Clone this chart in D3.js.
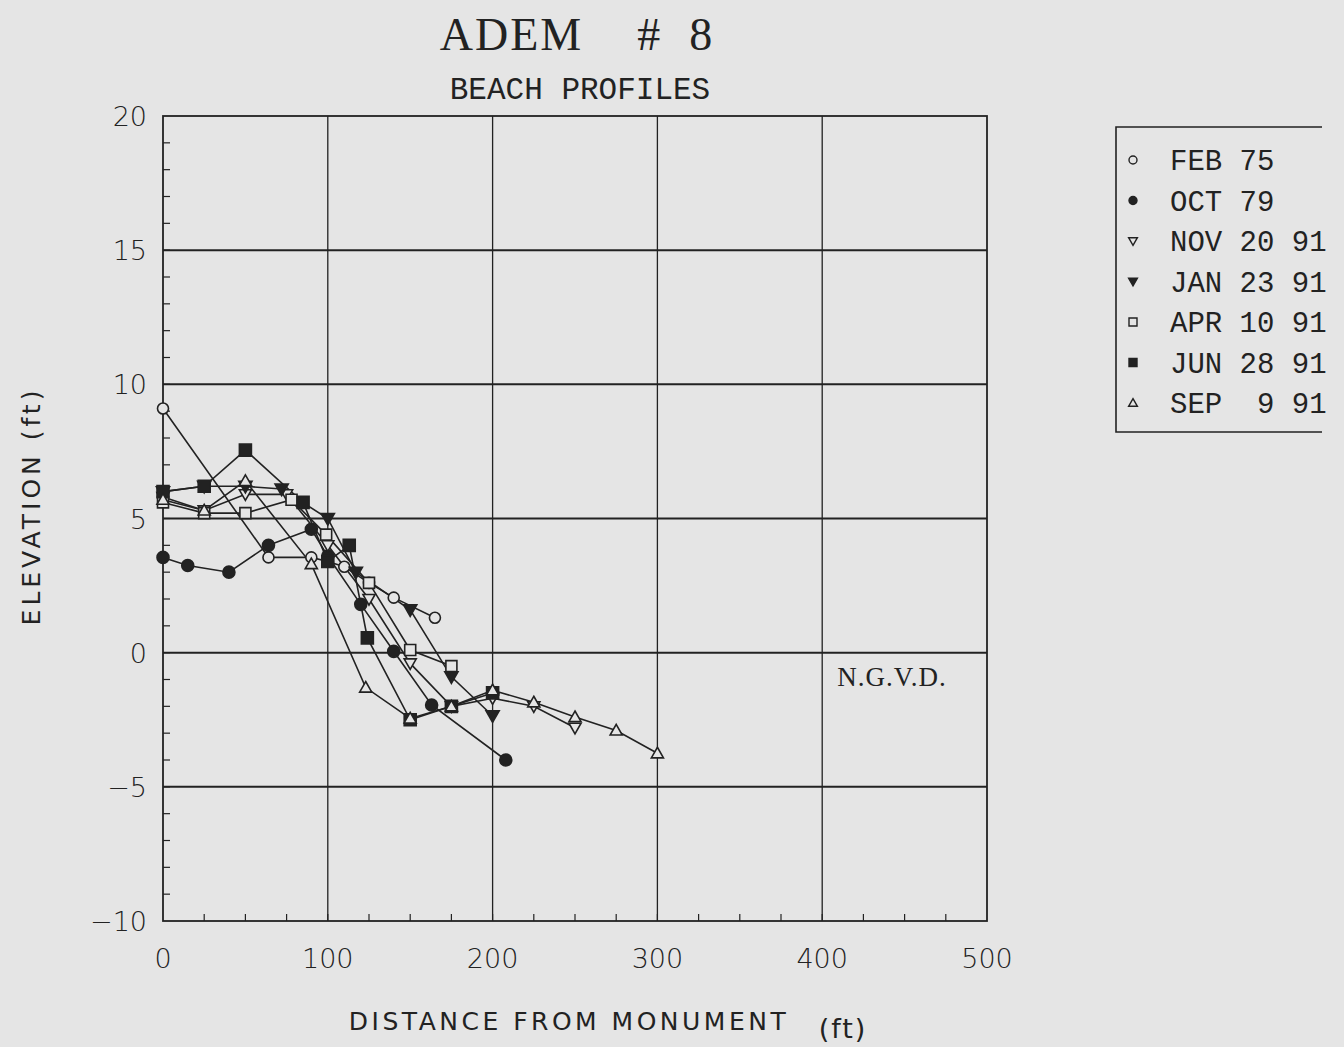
<!DOCTYPE html>
<html>
<head>
<meta charset="utf-8">
<script src="https://cdn.jsdelivr.net/npm/d3@7/dist/d3.min.js"></script>
<style>
  html, body { margin: 0; padding: 0; background: #e5e5e5; }
  svg { display: block; }
</style>
</head>
<body>
<div id="chart"></div>
<script>
// profile dates and their marker style
var seriesNames = ["FEB 75", "OCT 79", "NOV 20 91", "JAN 23 91", "APR 10 91", "JUN 28 91", "SEP  9 91"];
var seriesMarks = ["circle", "circle", "triDown", "triDown", "square", "square", "triUp"];
var seriesFill  = [false, true, false, true, false, true, false];

// [distance ft, elevation ft]
var feb75 = [[0, 9.1], [64, 3.55], [90, 3.55], [100, 3.4], [110, 3.2], [125, 2.6], [140, 2.05], [165, 1.3]];
var oct79 = [[0, 3.55], [15, 3.25], [40, 3.0], [64, 4.0], [90, 4.6], [100, 3.6], [120, 1.8], [140, 0.05], [163, -1.95], [208, -4.0]];
var nov91 = [[0, 5.8], [25, 5.3], [50, 5.9], [75, 5.9], [100, 4.0], [125, 2.0], [150, -0.4], [175, -2.0], [200, -1.7], [225, -2.0], [250, -2.8]];
var jan91 = [[0, 6.0], [25, 6.2], [50, 6.2], [72, 6.1], [100, 5.0], [117, 3.0], [150, 1.6], [175, -0.9], [200, -2.35]];
var apr91 = [[0, 5.6], [25, 5.2], [50, 5.2], [78, 5.7], [99, 4.4], [125, 2.6], [150, 0.1], [175, -0.5]];
var jun91 = [[0, 6.0], [25, 6.2], [50, 7.55], [85, 5.6], [100, 3.4], [113, 4.0], [124, 0.55], [150, -2.5], [175, -2.0], [200, -1.5]];
var sep91 = [[0, 5.7], [25, 5.3], [50, 6.4], [90, 3.3], [123, -1.3], [150, -2.45], [175, -2.0], [200, -1.4], [225, -1.85], [250, -2.4], [275, -2.9], [300, -3.75]];
var allSeries = [feb75, oct79, nov91, jan91, apr91, jun91, sep91];

var xTicks = [0, 100, 200, 300, 400, 500];
var yTicks = [-10, -5, 0, 5, 10, 15, 20];

var W = 1344, H = 1047;
var m = { left: 163, right: 987, top: 116, bottom: 921 };
var ink = "#222";

var svg = d3.select("#chart").append("svg").attr("width", W).attr("height", H);

var x = d3.scaleLinear().domain([0, 500]).range([m.left, m.right]);
var y = d3.scaleLinear().domain([-10, 20]).range([m.bottom, m.top]);

// grid
svg.append("g").selectAll("line").data(xTicks.slice(1, -1)).join("line")
  .attr("x1", function (d) { return x(d); }).attr("x2", function (d) { return x(d); })
  .attr("y1", m.top).attr("y2", m.bottom)
  .attr("stroke", ink).attr("stroke-width", 1.3);
svg.append("g").selectAll("line").data(yTicks.slice(1, -1)).join("line")
  .attr("x1", m.left).attr("x2", m.right)
  .attr("y1", function (d) { return y(d); }).attr("y2", function (d) { return y(d); })
  .attr("stroke", ink).attr("stroke-width", 2);

// frame
svg.append("rect").attr("x", m.left).attr("y", m.top)
  .attr("width", m.right - m.left).attr("height", m.bottom - m.top)
  .attr("fill", "none").attr("stroke", ink).attr("stroke-width", 1.8);

// minor ticks
svg.append("g").selectAll("line").data(d3.range(25, 500, 25)).join("line")
  .attr("x1", function (d) { return x(d); }).attr("x2", function (d) { return x(d); })
  .attr("y1", m.bottom).attr("y2", m.bottom - 7)
  .attr("stroke", ink).attr("stroke-width", 1.2);
svg.append("g").selectAll("line").data(d3.range(-9, 20, 1)).join("line")
  .attr("x1", m.left).attr("x2", m.left + 7)
  .attr("y1", function (d) { return y(d); }).attr("y2", function (d) { return y(d); })
  .attr("stroke", ink).attr("stroke-width", 1.2);

// tick labels
var tickFont = "'DejaVu Sans', sans-serif";
svg.append("g").selectAll("text").data(xTicks).join("text")
  .attr("x", function (d) { return x(d); }).attr("y", 968)
  .attr("text-anchor", "middle").attr("font-family", tickFont)
  .attr("font-size", 27).attr("font-weight", 200).attr("fill", ink)
  .text(function (d) { return d; });
svg.append("g").selectAll("text").data(yTicks).join("text")
  .attr("x", 147).attr("y", function (d) { return y(d) + 10; })
  .attr("text-anchor", "end").attr("font-family", tickFont)
  .attr("font-size", 27).attr("font-weight", 200).attr("fill", ink)
  .text(function (d) { return d < 0 ? "\u2212" + Math.abs(d) : d; });

// axis titles
svg.append("text").attr("x", 569).attr("y", 1030).attr("text-anchor", "middle")
  .attr("font-family", tickFont).attr("font-size", 25).attr("letter-spacing", 3.5).attr("fill", ink)
  .text("DISTANCE FROM MONUMENT");
svg.append("text").attr("x", 843).attr("y", 1038).attr("text-anchor", "middle")
  .attr("font-family", tickFont).attr("font-size", 27).attr("letter-spacing", 2).attr("fill", ink)
  .text("(ft)");
svg.append("text").attr("transform", "translate(40,506) rotate(-90)").attr("text-anchor", "middle")
  .attr("font-family", tickFont).attr("font-size", 25).attr("letter-spacing", 4).attr("fill", ink)
  .text("ELEVATION (ft)");

// titles
svg.append("text").attr("x", 577).attr("y", 50).attr("text-anchor", "middle")
  .attr("font-family", "'Liberation Serif', serif").attr("font-size", 46).attr("letter-spacing", 2).attr("fill", ink)
  .attr("xml:space", "preserve").text("ADEM    #  8");
svg.append("text").attr("x", 580).attr("y", 99).attr("text-anchor", "middle")
  .attr("font-family", "'Liberation Mono', monospace").attr("font-size", 31).attr("fill", ink)
  .text("BEACH PROFILES");
svg.append("text").attr("x", 892).attr("y", 686).attr("text-anchor", "middle")
  .attr("font-family", "'Liberation Serif', serif").attr("font-size", 27).attr("letter-spacing", 1).attr("fill", ink)
  .text("N.G.V.D.");

// marker shapes
function markPath(kind, r) {
  if (kind === "circle") return d3.symbol(d3.symbolCircle, Math.PI * r * r)();
  if (kind === "square") return d3.symbol(d3.symbolSquare, 4 * r * r)();
  var h = r * 1.1;
  if (kind === "triUp") return "M0," + (-h) + "L" + h + "," + (h * 0.75) + "L" + (-h) + "," + (h * 0.75) + "Z";
  return "M0," + h + "L" + h + "," + (-h * 0.75) + "L" + (-h) + "," + (-h * 0.75) + "Z";
}

var line = d3.line().x(function (d) { return x(d[0]); }).y(function (d) { return y(d[1]); });

allSeries.forEach(function (data, i) {
  svg.append("path").datum(data).attr("d", line)
    .attr("fill", "none").attr("stroke", ink).attr("stroke-width", 1.6);
});
allSeries.forEach(function (data, i) {
  var r = seriesFill[i] ? 6 : 5.5;
  svg.append("g").selectAll("path").data(data).join("path")
    .attr("transform", function (d) { return "translate(" + x(d[0]) + "," + y(d[1]) + ")"; })
    .attr("d", markPath(seriesMarks[i], r))
    .attr("fill", seriesFill[i] ? ink : "#e5e5e5")
    .attr("stroke", ink).attr("stroke-width", 1.6);
});

// legend
var lg = svg.append("g");
lg.append("path").attr("d", "M1322,127 L1116,127 L1116,432 L1322,432")
  .attr("fill", "none").attr("stroke", ink).attr("stroke-width", 1.6);
seriesNames.forEach(function (name, i) {
  var ry = 160 + i * 40.5;
  lg.append("path").attr("transform", "translate(1133," + ry + ")")
    .attr("d", markPath(seriesMarks[i], 4))
    .attr("fill", seriesFill[i] ? ink : "#e5e5e5").attr("stroke", ink).attr("stroke-width", 1.4);
  lg.append("text").attr("x", 1170).attr("y", ry + 10)
    .attr("font-family", "'Liberation Mono', monospace").attr("font-size", 29).attr("fill", ink)
    .attr("xml:space", "preserve").text(name);
});
</script>
</body>
</html>
